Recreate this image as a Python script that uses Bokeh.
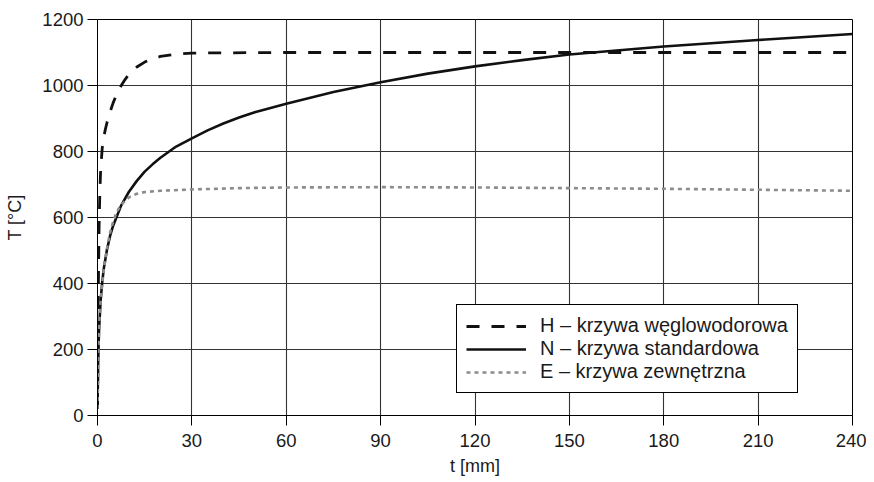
from bokeh.plotting import figure
from bokeh.models import Range1d, FixedTicker, Legend, LegendItem
from bokeh.embed import file_html
from bokeh.resources import INLINE

# ---- data ----
x_ticks = [0, 30, 60, 90, 120, 150, 180, 210, 240]
y_ticks = [0, 200, 400, 600, 800, 1000, 1200]

t_H = [0, 0.25, 0.5, 0.75, 1, 1.5, 2, 2.5, 3, 4, 5, 6, 7.5, 8.75, 10, 12.5, 15, 17.5, 20, 25, 30, 35, 40, 60, 90, 120, 180, 240]
T_H = [20, 373, 569, 678, 743, 810, 844, 867, 887, 920, 948, 971, 999, 1018, 1034, 1056, 1071, 1081, 1088, 1095, 1098, 1099, 1099, 1100, 1100, 1100, 1100, 1100]

t_N = [0, 0.25, 0.5, 1, 1.5, 2, 3, 4, 5, 7.5, 10, 12.5, 15, 17.5, 20, 25, 30, 35, 40, 45, 50, 60, 75, 90, 105, 120, 135, 150, 165, 180, 195, 210, 225, 240]
T_N = [20, 185, 261, 349, 404, 445, 502, 544, 576, 636, 678, 711, 739, 761, 781, 815, 840, 864, 885, 903, 919, 945, 980, 1010, 1036, 1058, 1077, 1094, 1106, 1118, 1128, 1138, 1147, 1156]

t_E = [0, 0.25, 0.5, 0.75, 1, 1.5, 2, 3, 4, 5, 6, 7.5, 10, 12.5, 15, 20, 30, 45, 60, 90, 120, 150, 180, 210, 240]
T_E = [20, 182, 263, 311, 346, 399, 441, 506, 554, 588, 614, 639, 661, 672, 677, 681, 685, 689, 691, 692, 691, 689, 687, 684, 681]

labels = ["H \u2013 krzywa w\u0119glowodorowa", "N \u2013 krzywa standardowa", "E \u2013 krzywa zewn\u0119trzna"]
x_title = "t [mm]"
y_title = "T [\u00b0C]"

FONT = "Liberation Sans"
TXT = "#1a1a1a"

p = figure(width=866, height=481, output_backend="svg", toolbar_location=None,
           x_range=Range1d(0, 240), y_range=Range1d(0, 1200),
           min_border_left=97, min_border_right=14, min_border_top=19, min_border_bottom=66)
p.background_fill_color = "white"
p.border_fill_color = "white"
p.outline_line_color = "black"
p.outline_line_width = 1

for ax in (p.xaxis[0], p.yaxis[0]):
    ax.axis_line_color = "black"
    ax.major_tick_line_color = "black"
    ax.major_tick_in = 0
    ax.minor_tick_line_color = None
    ax.major_label_text_font = FONT
    ax.major_label_text_font_size = "18.5px"
    ax.major_label_text_color = TXT
    ax.axis_label_text_font = FONT
    ax.axis_label_text_font_size = "18px"
    ax.axis_label_text_font_style = "normal"
    ax.axis_label_text_color = TXT
p.xaxis[0].ticker = FixedTicker(ticks=x_ticks)
p.yaxis[0].ticker = FixedTicker(ticks=y_ticks)
p.xaxis[0].major_tick_out = 10
p.yaxis[0].major_tick_out = 10
p.xaxis[0].major_label_standoff = 8
p.yaxis[0].major_label_standoff = 4
p.xaxis[0].axis_label = x_title
p.yaxis[0].axis_label = y_title
p.xaxis[0].axis_label_standoff = 6
p.yaxis[0].axis_label_standoff = 14

p.xgrid.ticker = FixedTicker(ticks=x_ticks)
p.ygrid.ticker = FixedTicker(ticks=y_ticks)
p.grid.grid_line_color = "#333333"
p.grid.grid_line_width = 1.1
p.grid.grid_line_alpha = 1.0

rH = p.line(t_H, T_H, line_color="#111111", line_width=2.8, line_dash="13 12")
rN = p.line(t_N, T_N, line_color="#111111", line_width=2.6)
rE = p.line(t_E, T_E, line_color="#8c8c8c", line_width=2.6, line_dash="4 4")

legend = Legend(items=[LegendItem(label=labels[0], renderers=[rH]),
                       LegendItem(label=labels[1], renderers=[rN]),
                       LegendItem(label=labels[2], renderers=[rE])],
                location=(359, 22), margin=0, padding=9, spacing=0,
                glyph_width=60, glyph_height=20, label_height=20, label_standoff=14,
                label_text_font=FONT, label_text_font_size="20px", label_text_color=TXT,
                border_line_color="black", border_line_width=1.6, border_line_alpha=1.0,
                background_fill_color="white", background_fill_alpha=1.0)
p.add_layout(legend, "center")

open("out.html", "w").write(file_html(p, INLINE))
